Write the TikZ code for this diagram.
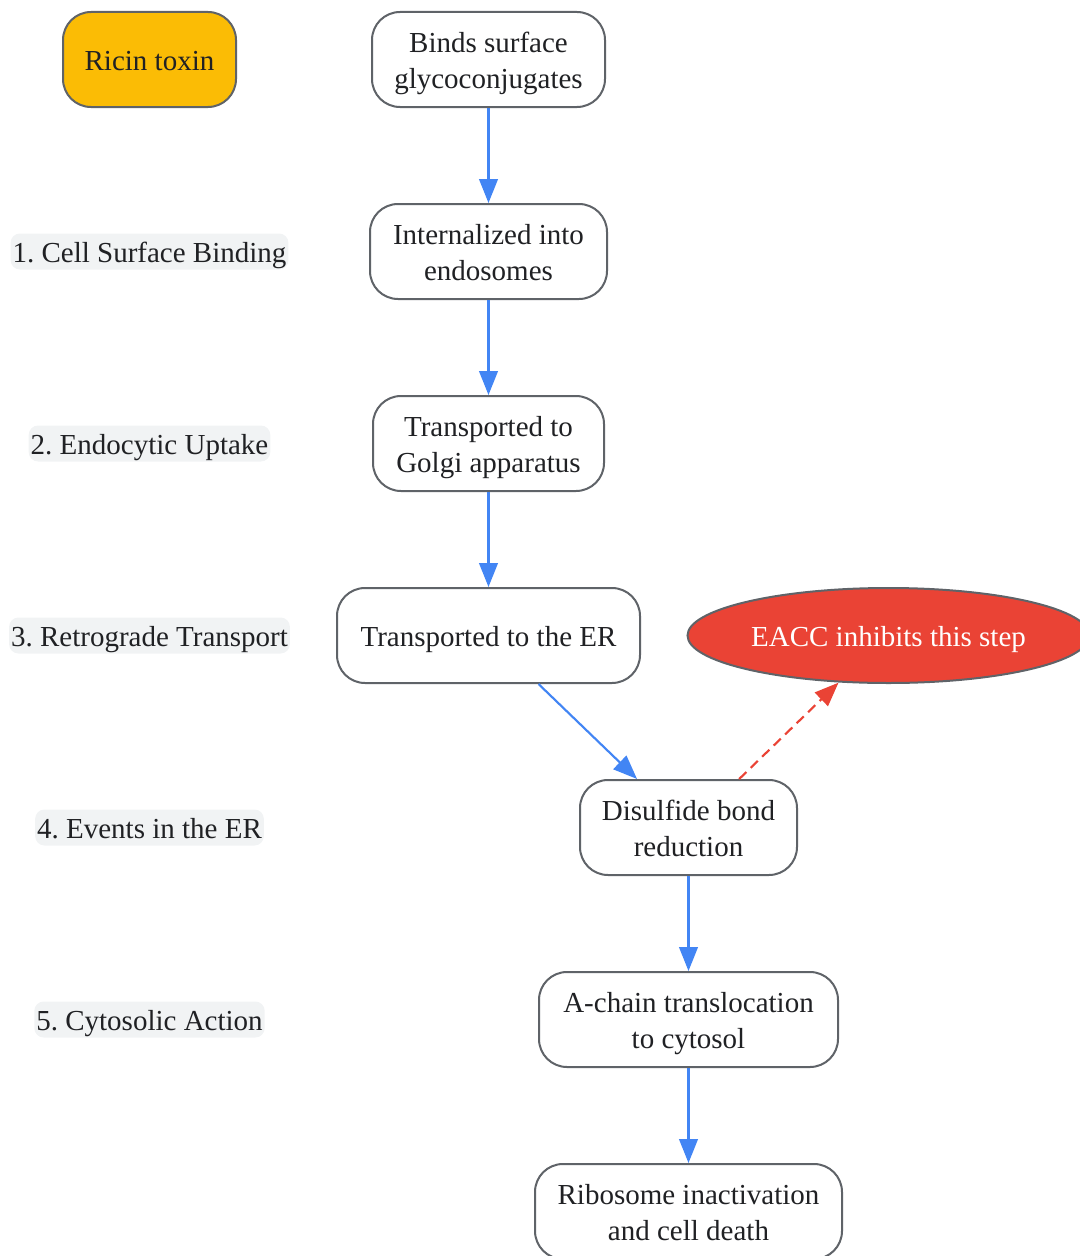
\documentclass[tikz,border=0pt]{standalone}
\usepackage{fontspec}
\setmainfont{Liberation Serif}
\usetikzlibrary{arrows.meta,shapes.geometric}
\frenchspacing
\definecolor{edgegray}{HTML}{5F6368}
\definecolor{txt}{HTML}{202124}
\definecolor{flowblue}{HTML}{4285F4}
\definecolor{ricin}{HTML}{FBBC05}
\definecolor{eacc}{HTML}{EA4335}
\definecolor{lblbg}{HTML}{F1F3F4}
\newcommand{\topstrut}{\rule{0pt}{21pt}}
\newcommand{\botstrut}{\rule[-4.7pt]{0pt}{4.7pt}}
\tikzset{
  stepbox/.style={draw=edgegray, line width=1.5pt, rounded corners=21pt, fill=white,
    align=center, text=txt, font=\fontsize{21.75pt}{27pt}\selectfont,
    minimum height=71.25pt, inner sep=0pt},
  phase/.style={fill=lblbg, rounded corners=7pt, text=txt, inner xsep=1.5pt, inner ysep=0pt,
    minimum height=27pt, font=\fontsize{21.75pt}{27pt}\selectfont},
  flow/.style={draw=flowblue, line width=1.6pt, -{Triangle[length=18pt,width=14pt]}},
  inhib/.style={draw=eacc, line width=1.6pt, dash pattern=on 7.5pt off 4.5pt, -{Triangle[length=18pt,width=14pt]}}
}
\begin{document}
\begin{tikzpicture}[x=0.75pt,y=-0.75pt]
\useasboundingbox (0,0) rectangle (1080,1256);
\clip (0,0) rectangle (1080,1256);
\node[stepbox, fill=ricin, minimum width=129.75pt] (ricin) at (149.5,59.5) {\topstrut Ricin toxin\botstrut};
\node[stepbox, minimum width=174.75pt] (bind) at (488.5,59.5) {\topstrut Binds surface\\glycoconjugates\botstrut};
\node[stepbox, minimum width=177.75pt] (intern) at (488.5,251.5) {\topstrut Internalized into\\endosomes\botstrut};
\node[stepbox, minimum width=173.25pt] (golgi) at (488.5,443.5) {\topstrut Transported to\\Golgi apparatus\botstrut};
\node[stepbox, minimum width=227.25pt] (er) at (488.5,635.5) {\topstrut Transported to the ER\botstrut};
\node[ellipse, draw=edgegray, line width=1.5pt, fill=eacc, text=white, inner sep=0pt,
  minimum width=301.5pt, minimum height=71.25pt, font=\fontsize{21.75pt}{27pt}\selectfont] (eacc) at (888.5,635.5) {\topstrut EACC inhibits this step\botstrut};
\node[stepbox, minimum width=162.75pt] (dis) at (688.5,827.5) {\topstrut Disulfide bond\\reduction\botstrut};
\node[stepbox, minimum width=224.25pt] (achain) at (688.5,1019.5) {\topstrut A-chain translocation\\to cytosol\botstrut};
\node[stepbox, minimum width=230.25pt] (ribo) at (688.5,1211.5) {\topstrut Ribosome inactivation\\and cell death\botstrut};

\node[phase] (p1) at (149.5,251.5) {\topstrut 1. Cell Surface Binding\botstrut};
\node[phase] (p2) at (149.5,443.5) {\topstrut 2. Endocytic Uptake\botstrut};
\node[phase] (p3) at (149.5,635.5) {\topstrut 3. Retrograde Transport\botstrut};
\node[phase] (p4) at (149.5,827.5) {\topstrut 4. Events in the ER\botstrut};
\node[phase] (p5) at (149.5,1019.5) {\topstrut 5. Cytosolic Action\botstrut};

\draw[flow] (bind.south) -- (intern.north);
\draw[flow] (intern.south) -- (golgi.north);
\draw[flow] (golgi.south) -- (er.north);
\draw[flow] ([xshift=37.5pt]er.south) -- ([xshift=-38.6pt]dis.north);
\draw[inhib] ([xshift=38pt]dis.north) -- ([xshift=-37.5pt,yshift=1pt]eacc.south);
\draw[flow] (dis.south) -- (achain.north);
\draw[flow] (achain.south) -- (ribo.north);
\end{tikzpicture}
\end{document}
